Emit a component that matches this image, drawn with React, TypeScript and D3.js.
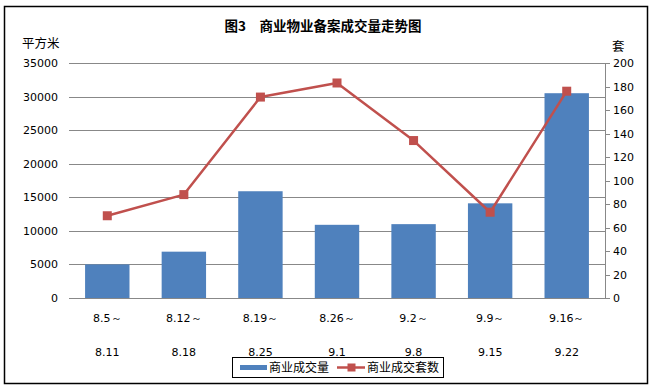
import React from "react";
import * as d3 from "d3";

const categoriesTop = ["8.5～", "8.12～", "8.19～", "8.26～", "9.2～", "9.9～", "9.16～"];
const categoriesBottom = ["8.11", "8.18", "8.25", "9.1", "9.8", "9.15", "9.22"];
const areaValues = [5000, 6900, 15900, 10900, 11000, 14100, 30500];
const countValues = [70, 88, 171, 183, 134, 73, 176];
const leftTicks = [0, 5000, 10000, 15000, 20000, 25000, 30000, 35000];
const rightTicks = [0, 20, 40, 60, 80, 100, 120, 140, 160, 180, 200];

const W = 653, H = 388;
const plot = { left: 69, right: 605, top: 63, bottom: 298 };
const font = "'Noto Sans CJK SC', 'DejaVu Sans', sans-serif";
const numFont = "'DejaVu Sans', 'Noto Sans', sans-serif";

export default function App() {
  const idx = d3.range(categoriesTop.length).map(String);
  const x = d3.scaleBand().domain(idx).range([plot.left, plot.right]).paddingInner(0.42).paddingOuter(0.21);
  const yL = d3.scaleLinear().domain([0, 35000]).range([plot.bottom, plot.top]);
  const yR = d3.scaleLinear().domain([0, 200]).range([plot.bottom, plot.top]);
  const cx = (i: number) => (x(String(i)) as number) + x.bandwidth() / 2;
  const line = d3.line<number>().x((_, i) => cx(i)).y((d) => yR(d));

  return (
    <svg width={W} height={H} style={{ position: "absolute", left: 0, top: 0, background: "#fff" }}>
      <rect x={0} y={0} width={W} height={H} fill="#fff" />
      <rect x={4.5} y={6.5} width={643} height={377} fill="none" stroke="#000" strokeWidth={1.5} />
      <text x={323} y={31} textAnchor="middle" fontFamily={font} fontWeight="bold" fontSize={13.5} fill="#000">
        图3　商业物业备案成交量走势图
      </text>
      <text x={22} y={48} fontFamily={font} fontSize={12.5} fill="#000">平方米</text>
      <text x={612} y={51} fontFamily={font} fontSize={12.5} fill="#000">套</text>

      {leftTicks.map((t) => (
        <g key={"l" + t}>
          <line x1={plot.left} x2={plot.right} y1={Math.round(yL(t)) + 0.5} y2={Math.round(yL(t)) + 0.5} stroke="#888" strokeWidth={1} />
          <text x={58} y={yL(t) + 4} textAnchor="end" fontFamily={numFont} fontSize={11} fill="#000">{t}</text>
        </g>
      ))}
      <line x1={plot.right + 0.5} x2={plot.right + 0.5} y1={plot.top} y2={plot.bottom} stroke="#888" />
      {rightTicks.map((t) => (
        <g key={"r" + t}>
          <line x1={plot.right} x2={plot.right + 5} y1={Math.round(yR(t)) + 0.5} y2={Math.round(yR(t)) + 0.5} stroke="#888" />
          <text x={613} y={yR(t) + 4} fontFamily={numFont} fontSize={11} fill="#000">{t}</text>
        </g>
      ))}

      {areaValues.map((v, i) => (
        <rect key={"b" + i} x={x(String(i))} y={yL(v)} width={x.bandwidth()} height={yL(0) - yL(v)} fill="#4f81bd" />
      ))}
      <path d={line(countValues) || ""} fill="none" stroke="#c0504d" strokeWidth={2.5} strokeLinejoin="round" />
      {countValues.map((v, i) => (
        <rect key={"m" + i} x={cx(i) - 4.5} y={yR(v) - 4.5} width={9} height={9} fill="#c0504d" />
      ))}

      {categoriesTop.map((c, i) => (
        <g key={"c" + i}>
          <text x={cx(i)} y={322} textAnchor="middle" fontFamily={numFont} fontSize={11} fill="#000">{c}</text>
          <text x={cx(i)} y={356} textAnchor="middle" fontFamily={numFont} fontSize={11} fill="#000">{categoriesBottom[i]}</text>
        </g>
      ))}

      <rect x={232.5} y={357.5} width={211} height={20} fill="#fff" stroke="#000" strokeWidth={1} />
      <rect x={240} y={365} width={27} height={5} fill="#4f81bd" />
      <text x={269} y={372} fontFamily={font} fontSize={12} fill="#000">商业成交量</text>
      <line x1={337} x2={365} y1={367.5} y2={367.5} stroke="#c0504d" strokeWidth={2.5} />
      <rect x={347.5} y={363.5} width={8} height={8} fill="#c0504d" />
      <text x={367} y={372} fontFamily={font} fontSize={12} fill="#000">商业成交套数</text>
    </svg>
  );
}
